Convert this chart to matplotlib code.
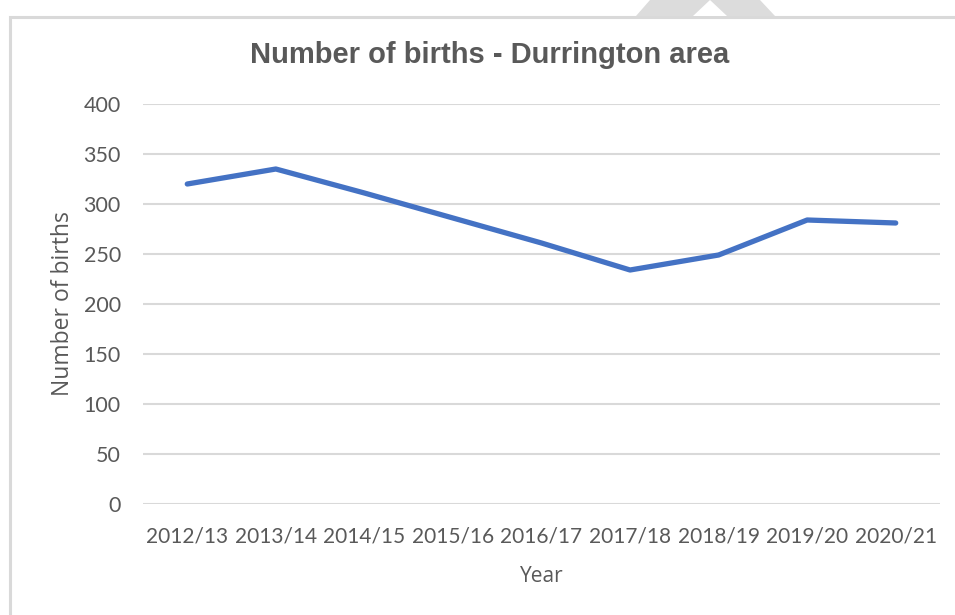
import matplotlib
matplotlib.use("Agg")
import matplotlib.pyplot as plt
from matplotlib.patches import Polygon, Rectangle

years = ["2012/13", "2013/14", "2014/15", "2015/16", "2016/17",
         "2017/18", "2018/19", "2019/20", "2020/21"]
births = [320, 335, 311, 286, 261, 234, 249, 284, 281]
yticks = [0, 50, 100, 150, 200, 250, 300, 350, 400]

plt.rcParams['font.family'] = ['Lato', 'DejaVu Sans']
text_col = "#595959"
grid_col = "#d9d9d9"

fig = plt.figure(figsize=(9.55, 6.15), dpi=100)
W, H = 955.0, 615.0

# chart frame and watermark remnant at the top
fig.patches.append(Rectangle((10 / W, -0.1), 1.2, 1.1 - 17 / H, transform=fig.transFigure,
                             fill=False, edgecolor="#d9d9d9", linewidth=2.2))
fig.patches.append(Polygon([(636 / W, 1 - 16 / H), (650 / W, 1.0), (760 / W, 1.0), (775 / W, 1 - 16 / H)],
                           closed=True, transform=fig.transFigure, facecolor="#dcdcdc", edgecolor="none"))
fig.patches.append(Polygon([(693 / W, 1 - 16 / H), (710 / W, 1.0), (727 / W, 1 - 16 / H)],
                           closed=True, transform=fig.transFigure, facecolor="white", edgecolor="none"))

ax = fig.add_axes([143 / W, 1 - 504 / H, (940 - 143) / W, (504 - 104) / H])
x = list(range(len(years)))
ax.plot(x, births, color="#4472C4", linewidth=3.8, solid_capstyle="round",
        solid_joinstyle="round", zorder=3)

ax.set_xlim(-0.5, len(years) - 0.5)
ax.set_ylim(0, 400)
ax.set_yticks(yticks)
ax.set_xticks(x)
ax.set_xticklabels(years)
ax.grid(axis="y", color=grid_col, linewidth=1.5)
ax.set_axisbelow(True)
for s in ax.spines.values():
    s.set_visible(False)
ax.tick_params(axis="both", length=0, colors=text_col)
ax.tick_params(axis="y", pad=16, labelsize=15.5)
ax.tick_params(axis="x", pad=16, labelsize=15)

ax.set_xlabel("Year", fontsize=15, color=text_col, labelpad=14, family=["Open Sans", "DejaVu Sans"])
ax.set_ylabel("Number of births", fontsize=16.5, color=text_col, labelpad=6,
              family=["Open Sans", "DejaVu Sans"])

fig.text(490 / W, 1 - 55 / H, "Number of births - Durrington area", ha="center", va="center",
         fontsize=21, fontweight="bold", color=text_col, family=["Liberation Sans", "DejaVu Sans"])

fig.savefig("out.png", dpi=100)
